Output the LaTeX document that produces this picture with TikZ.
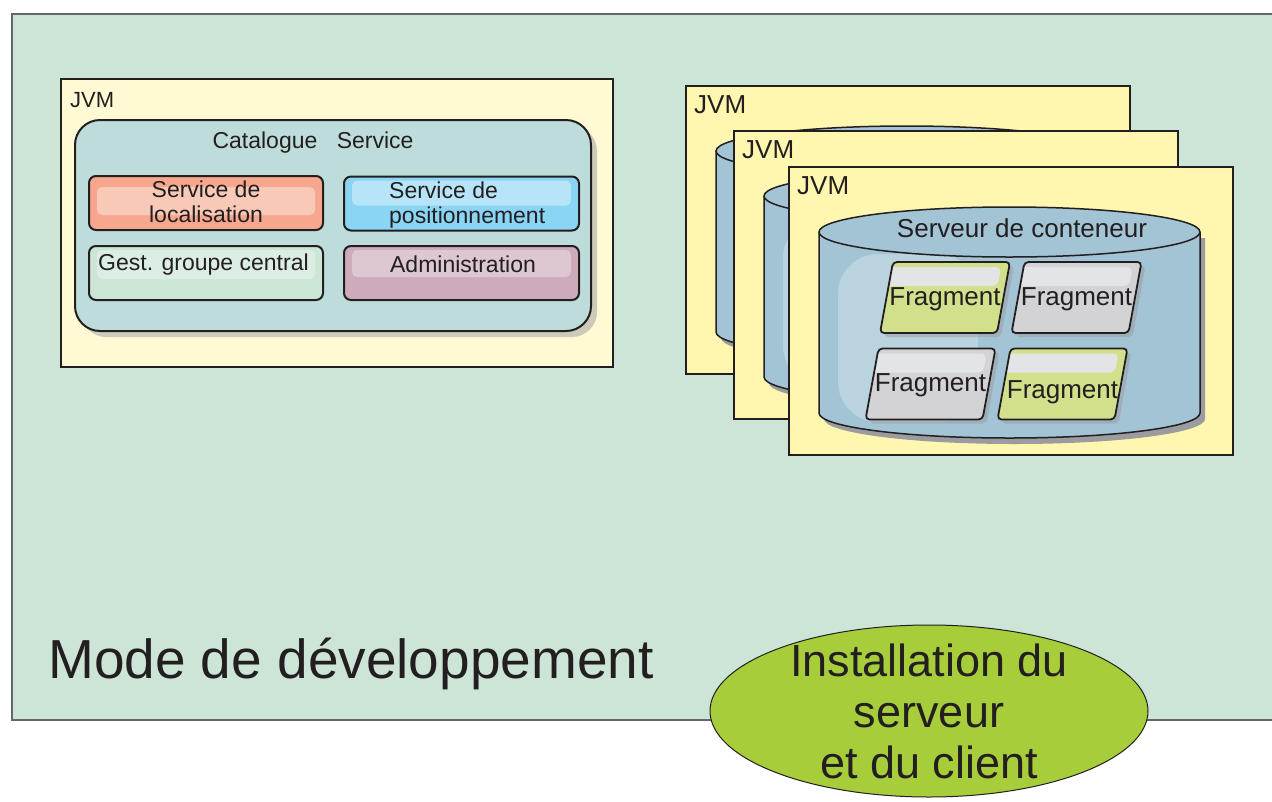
\documentclass[tikz,border=0pt]{standalone}
\usepackage{fontspec}
\setmainfont{Liberation Sans}
\usetikzlibrary{shapes.geometric, shadows}
\usepackage{xcolor}
\definecolor{devmint}{HTML}{CCE5D6}
\definecolor{devedge}{HTML}{231F20}
\definecolor{jvmpale}{HTML}{FFFAD4}
\definecolor{jvmyellow}{HTML}{FFF7B0}
\definecolor{catteal}{HTML}{BEDDDA}
\definecolor{locsalmon}{HTML}{F6A78D}
\definecolor{locband}{HTML}{F8C9B7}
\definecolor{posblue}{HTML}{89D5F3}
\definecolor{posband}{HTML}{B7E4F6}
\definecolor{gestgreen}{HTML}{CCE6D6}
\definecolor{gestband}{HTML}{DCEEE3}
\definecolor{admmauve}{HTML}{CDABBD}
\definecolor{admband}{HTML}{DDC7D3}
\definecolor{cylblue}{HTML}{A3C4D4}
\definecolor{cylglow}{HTML}{B9D3DF}
\definecolor{fraglime}{HTML}{D2E08B}
\definecolor{fraggray}{HTML}{D3D3D5}
\definecolor{fragband}{HTML}{E3E4E5}
\definecolor{instlime}{HTML}{A7CD3A}
\definecolor{shadowgray}{HTML}{9A9CA0}
\newcommand{\pxfont}[2]{\fontsize{#1}{#2}\selectfont}

\begin{document}
\begin{tikzpicture}[x=1pt, y=-1pt, text=devedge, every node/.style={inner sep=0pt},
    band/.style n args={3}{path picture={\fill[#1, rounded corners=5pt]
        ([xshift=8pt, yshift=-#2]path picture bounding box.north west) rectangle
        ([xshift=-8pt, yshift=-#3]path picture bounding box.north east);}},
    subbox/.style={draw=devedge, line width=2pt, rounded corners=7pt,
        minimum width=234pt, minimum height=54pt},
    fragbox/.style={draw=devedge, line width=1.8pt, rounded corners=4pt,
        minimum width=117pt, minimum height=71pt,
        drop shadow={shadow xshift=4pt, shadow yshift=-4pt, fill=shadowgray}}]
    \useasboundingbox (0,0) rectangle (1272,801);
    % background
    \fill[devmint] (12,14) rectangle (1290,720);
    \draw[black!60, line width=1.2pt] (1290,14) -- (12,14) -- (12,720) -- (1290,720);

    % catalogue JVM
    \node[draw=devedge, line width=1.5pt, fill=jvmpale, anchor=north west,
          minimum width=552pt, minimum height=288pt] (jvmleft) at (60,78) {};
    \node[anchor=west, font=\pxfont{22}{26}] (jvmlefttext) at (70,100) {JVM};
    \node[draw=devedge, line width=2pt, fill=catteal, rounded corners=25pt,
          minimum width=516pt, minimum height=211pt,
          drop shadow={shadow xshift=6pt, shadow yshift=-6pt, fill=shadowgray}] (catalogue) at (333,225.5) {};
    \node[font=\pxfont{23}{25}] (cattitle) at (313,143) {Catalogue\hspace{13pt} Service};
    \node[subbox, fill=locsalmon, band={locband}{11pt}{39pt}] (loc) at (206,203) {};
    \node[subbox, fill=posblue, band={posband}{4pt}{29pt}, minimum width=235pt] (pos) at (461.5,203.5) {};
    \node[subbox, fill=gestgreen, band={gestband}{4pt}{33pt}] (gest) at (206,273) {};
    \node[subbox, fill=admmauve, band={admband}{4pt}{31pt}, minimum width=235pt] (adm) at (461.5,273) {};
    \node[font=\pxfont{23}{25}, align=center] (loctext) at (206,202) {Service de\\localisation};
    \node[font=\pxfont{23}{25}, align=left, anchor=west] (postext) at (389,205) {Service de\\positionnement};
    \node[font=\pxfont{23}{25}, anchor=west] (gesttext) at (98,265) {Gest. groupe central};
    \node[font=\pxfont{23}{25}] (admtext) at (463,264) {Administration};

    % container server JVMs, back to front
    \foreach \bx/\by/\n in {685/85/1, 733/130/2, 788/166/3}{
      \begin{scope}[shift={(\bx,\by)}]
        \node[draw=devedge, line width=1.5pt, fill=jvmyellow, anchor=north west,
              minimum width=444pt, minimum height=288pt] (jvm\n) at (0,0) {};
        \node[anchor=west, font=\pxfont{26}{30}] (jvmtext\n) at (9,20) {JVM};
        \fill[shadowgray] (36,72) -- (36,253) arc[start angle=180, end angle=0, x radius=190.5, y radius=25] -- (417,72) -- cycle;
        \fill[cylblue] (31,66) -- (31,247) arc[start angle=180, end angle=0, x radius=190.5, y radius=25] -- (412,66) -- cycle;
        \fill[cylglow, rounded corners=40pt] (50,88) rectangle (190,256);
        \draw[devedge, line width=1.5pt] (31,66) -- (31,247) arc[start angle=180, end angle=0, x radius=190.5, y radius=25] -- (412,66);
        \draw[devedge, line width=1.5pt, fill=cylblue] (221.5,66) ellipse[x radius=190.5, y radius=25];
      \end{scope}
    }
    \node[font=\pxfont{26}{30}] (serveur) at (1022,228) {Serveur de conteneur};

    % fragments
    \foreach \fx/\fy/\ty/\fc/\k in {945/297.5/1.5/fraglime/1, 1076.5/297.5/1.5/fraggray/2,
                                    930.5/384/1/fraggray/3, 1062.5/384/8/fraglime/4}{
      \begin{scope}[shift={(\fx,\fy)}, xslant=0.183]
        \node[fragbox, fill=\fc, band={fragband}{5pt}{24pt}, transform shape] (frag\k) at (0,0) {};
      \end{scope}
      \node[font=\pxfont{26}{30}] (fragtext\k) at (\fx,\fy+\ty) {Fragment};
    }

    % bottom labels
    \node[anchor=base west, font=\pxfont{55}{60}] (devmode) at (48,678) {Mode de développement};
    \node[ellipse, draw=devedge, line width=1pt, fill=instlime,
          minimum width=438pt, minimum height=172pt] (install) at (929,711) {};
    \node[align=center, font=\pxfont{45}{51}] (installtext) at (install.center) {Installation du\\serveur\\et du client};
\end{tikzpicture}
\end{document}
